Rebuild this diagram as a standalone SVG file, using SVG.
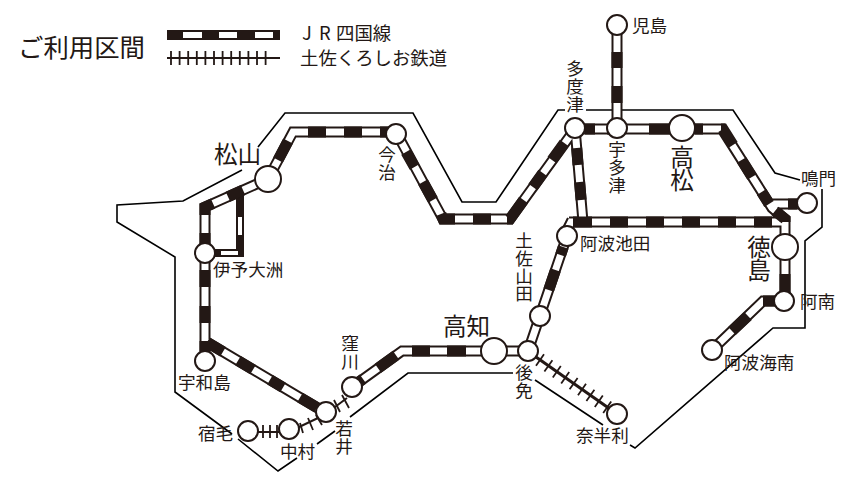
<svg xmlns="http://www.w3.org/2000/svg" width="854" height="480" viewBox="0 0 854 480">
<style>
text{font-family:"Noto Sans CJK JP","Noto Sans",sans-serif;fill:#231815;font-size:17.6px}
.l{font-size:23.6px}.h{font-size:25.4px}.m{font-size:18.4px}
.v{writing-mode:vertical-rl}
.coast{fill:none;stroke:#000;stroke-width:1.6}
.rb{fill:none;stroke:#231815;stroke-width:11}
.rw{fill:none;stroke:#fff;stroke-width:7}
.blk{fill:none;stroke:#231815;stroke-width:11}
.nb{fill:none;stroke:#231815;stroke-width:8}
.nw{fill:none;stroke:#fff;stroke-width:4}
.lb{fill:none;stroke:#231815;stroke-width:10}
.lw{fill:none;stroke:#fff;stroke-width:6}
.kl{fill:none;stroke:#231815;stroke-width:2}
.kh{fill:none;stroke:#231815;stroke-width:3}
.kt{fill:none;stroke:#231815;stroke-width:1.8}
circle{fill:#fff;stroke:#231815;stroke-width:2}
</style>
<rect width="854" height="480" fill="#fff"/>
<g id="coast">
<path class="coast" d="M258 147L285 113H413L462 202H496L558 110H565M586 110H733L775 173L800 180M822 189V227L805 241V328H773L635 448L630 445M603 425L535 380M513 373H408L350 417M335 431L317 444M297 458L278 471L238 439M232 434L175 392V257L117 222V205L183 201L242 170"/>
</g>
<g id="connectors">
<path class="nb" d="M240 190V253H205"/>
<path class="nw" d="M240 217V235M221 253H238"/>
<path class="rb" d="M268 179L293 132H396L443 219H510L575 129H722L772 208L785 219V301M617 25V129M575 128L583 222M569 222H785M772 204H807M784 301H763L712 350M567 236L528 351H402L352 387M268 179L205 207V361M205 341L326 413M572 220L565 234"/>
<path class="rw" d="M268 179L293 132H396L443 219H510L575 129H722L772 208L785 219V301M617 25V129M575 128L583 222M569 222H785M772 204H807M784 301H763L712 350M567 236L528 351H402L352 387M268 179L205 207V361M205 341L326 413M572 220L565 234"/>
<path class="blk" d="M278 160L288 141M308 132H326M344 132H362M380 132H396M406 152L414.5 167M423 182L433 200M441 214L443 219H455M473 219H491M507 219H510L523.6 200M532.9 187L542.9 173M552 160L564.3 143M585 129H595M607 129H617M649 129H670M695 129H703M721 129H723L733 145M741.6 160L752 177M761.6 192L769 204M775 211L785 219V222M617 52V68M617 86V103M576.7 148L578 165M579.6 182L581.1 200M573 222H592M610 222H628M646 222H664M682 222H700M718 222H736M754 222H772M788 204H797M563.3 247L560.6 255M555.5 270L548.7 290M447 351H466M412 351H430M396 355.3L378 368.2M363 379L352 387M785 274V293M777 301H763M748 316L732 331M213 203.4L205 207V215M205 233V245M205 270V287M205 306V323M205 341V351M228 196.8L243 190M207 342.2L223 351.7M238 360.6L253 369.6M270 379.7L283 387.4M300 397.5L317 407.6"/>
<path class="kl" d="M258 432H279M297 428L318 418M335 407L347 398"/>
<path class="kh" d="M536 357L610 409"/>
<path class="kt" d="M263 425V438M270 425V438M277 425V438M300 423L303 433M308 418L313 430M316 415L322 425M334 400L340 412M342 395L349 408M544 354.3L536 365.7M552.4 360.2L544.4 371.6M560.8 366.1L552.8 377.5M569.2 372L561.2 383.4M577.6 377.9L569.6 389.3M586 383.8L578 395.2M594.4 389.7L586.4 401.1M602.8 395.6L594.8 407M611.2 401.5L603.2 412.9"/>
<path class="lb" d="M167 35H280"/>
<path class="lw" d="M183 35H202M219 35H237M255 35H273"/>
<path class="kl" d="M167 58H280"/>
<path class="kt" d="M171 51V65M179.6 51V65M188.2 51V65M196.8 51V65M205.4 51V65M214 51V65M222.6 51V65M231.2 51V65M239.8 51V65M248.4 51V65M257 51V65M265.6 51V65"/>
</g>
<g id="legend">
<text x="18" y="57" class="h">ご利用区間</text>
<text x="302" y="40" class="m">J</text><text x="319" y="40" class="m">R</text><text x="336" y="40" class="m">四国線</text>
<text x="300" y="65" class="m">土佐くろしお鉄道</text>
</g>
<g id="n-kojima"><circle cx="617" cy="25" r="10"/><text x="632" y="32">児島</text></g>
<g id="n-tadotsu"><circle cx="575" cy="128" r="10"/><text x="575" y="60" class="v">多度津</text></g>
<g id="n-utazu"><circle cx="617" cy="128" r="10"/><text x="617" y="141" class="v">宇多津</text></g>
<g id="n-takamatsu"><circle cx="682" cy="128" r="13"/><text x="682" y="145" class="v l">高松</text></g>
<g id="n-naruto"><circle cx="807" cy="203" r="10"/><text x="801" y="185">鳴門</text></g>
<g id="n-tokushima"><circle cx="785" cy="247" r="13"/><text x="759" y="235" class="v l">徳島</text></g>
<g id="n-anan"><circle cx="784" cy="301" r="10"/><text x="800" y="308">阿南</text></g>
<g id="n-kainan"><circle cx="712" cy="350" r="10"/><text x="724" y="369">阿波海南</text></g>
<g id="n-nahari"><circle cx="617" cy="414" r="10"/><text x="576" y="442">奈半利</text></g>
<g id="n-gomen"><circle cx="528" cy="351" r="10"/><text x="524" y="364" class="v">後免</text></g>
<g id="n-kochi"><circle cx="494" cy="351" r="13"/><text x="443" y="335" class="l">高知</text></g>
<g id="n-tosayamada"><circle cx="540" cy="316" r="10"/><text x="524" y="232" class="v">土佐山田</text></g>
<g id="n-ikeda"><circle cx="567" cy="236" r="10"/><text x="580" y="250">阿波池田</text></g>
<g id="n-kubokawa"><circle cx="352" cy="387" r="10"/><text x="350" y="335" class="v">窪川</text></g>
<g id="n-wakai"><circle cx="326" cy="412" r="10"/><text x="344" y="420" class="v">若井</text></g>
<g id="n-nakamura"><circle cx="289" cy="429" r="10"/><text x="280" y="458">中村</text></g>
<g id="n-sukumo"><circle cx="248" cy="431" r="10"/><text x="198" y="440">宿毛</text></g>
<g id="n-uwajima"><circle cx="205" cy="361" r="10"/><text x="178" y="389">宇和島</text></g>
<g id="n-ozu"><circle cx="205" cy="253" r="10"/><text x="213" y="276">伊予大洲</text></g>
<g id="n-matsuyama"><circle cx="268" cy="179" r="13"/><text x="214" y="163" class="l">松山</text></g>
<g id="n-imabari"><circle cx="396" cy="134" r="10"/><text x="387" y="146" class="v">今治</text></g>
</svg>
